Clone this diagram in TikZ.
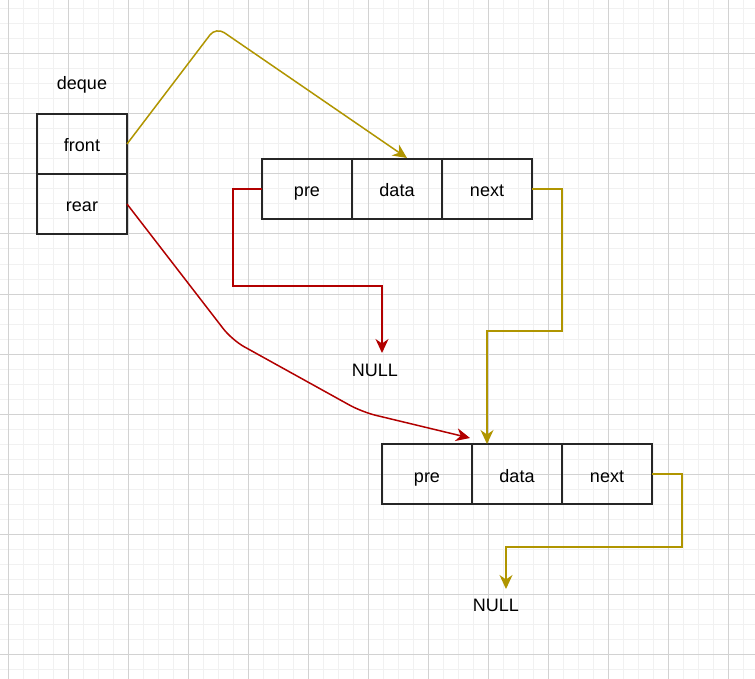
\documentclass[tikz,border=0pt]{standalone}
\usepackage{fontspec}
\setmainfont{Liberation Sans}
\usetikzlibrary{arrows.meta,calc,positioning}
\definecolor{linkgold}{HTML}{B09500}
\definecolor{linkred}{HTML}{B20000}
\definecolor{gridminor}{HTML}{F1F1F1}
\definecolor{gridmajor}{HTML}{D2D2D2}
\tikzset{
  cell/.style={draw=black!85,line width=1.5pt,minimum width=90pt,minimum height=60pt,
    inner sep=0pt,outer sep=0pt,text height=16pt,text depth=0pt},
  tag/.style={inner sep=0pt},
  link/.style={line width=1.5pt,-{Stealth[length=14pt,width=13pt,inset=4.5pt]}},
}

\begin{document}
\begin{tikzpicture}[x=1pt,y=-1pt,font=\fontsize{18}{21}\selectfont]
  \useasboundingbox (0,0) rectangle (755,679);
  \fill[white] (0,0) rectangle (755,679);
  % background grid
  \foreach \x in {8,23,...,755}{
    \draw[gridminor,line width=1pt] (\x,0) -- (\x,679);
  }
  \foreach \y in {9,24,...,679}{
    \draw[gridminor,line width=1pt] (0,\y) -- (755,\y);
  }
  \foreach \x in {8,68,...,755}{
    \draw[gridmajor,line width=1pt] (\x,0) -- (\x,679);
  }
  \foreach \y in {54,114,...,679}{
    \draw[gridmajor,line width=1pt] (0,\y) -- (755,\y);
  }

  % deque header
  \node[tag] (deque) at (82,85) {deque};
  \node[cell] (front) at (82,144) {front};
  \node[cell,below=0pt of front] (rear) {rear};

  % first list node
  \node[cell] (n1pre) at (307,189) {pre};
  \node[cell,right=0pt of n1pre] (n1data) {data};
  \node[cell,right=0pt of n1data] (n1next) {next};

  % second list node
  \node[cell] (n2pre) at (427,474) {pre};
  \node[cell,right=0pt of n2pre] (n2data) {data};
  \node[cell,right=0pt of n2data] (n2next) {next};

  \node[tag] (null1) at (375,370) {NULL};
  \node[tag] (null2) at (496,605) {NULL};

  \coordinate (n1in) at ($(n1data.north)+(10,-1)$);
  \coordinate (n2inred) at ($(n2pre.north east)+(-2,-6)$);
  \coordinate (n2in) at ($(n2data.north west)+(15,0)$);
  \coordinate (null1in) at (382,353);
  \coordinate (null2in) at (506,589);

  % links
  \draw[link,linkgold,rounded corners=10pt] (front.east) -- (216,27) -- (n1in);
  \draw[link,linkred,rounded corners=14pt] (rear.east) -- (232,340) -- (362,412) -- (n2inred);
  \draw[link,linkred] (n1pre.west) -- ++(-29,0) |- (382,286) -- (null1in);
  \draw[link,linkgold] (n1next.east) -- ++(30,0) |- (487,331) -- (n2in);
  \draw[link,linkgold] (n2next.east) -- ++(30,0) |- (506,547) -- (null2in);
\end{tikzpicture}
\end{document}
